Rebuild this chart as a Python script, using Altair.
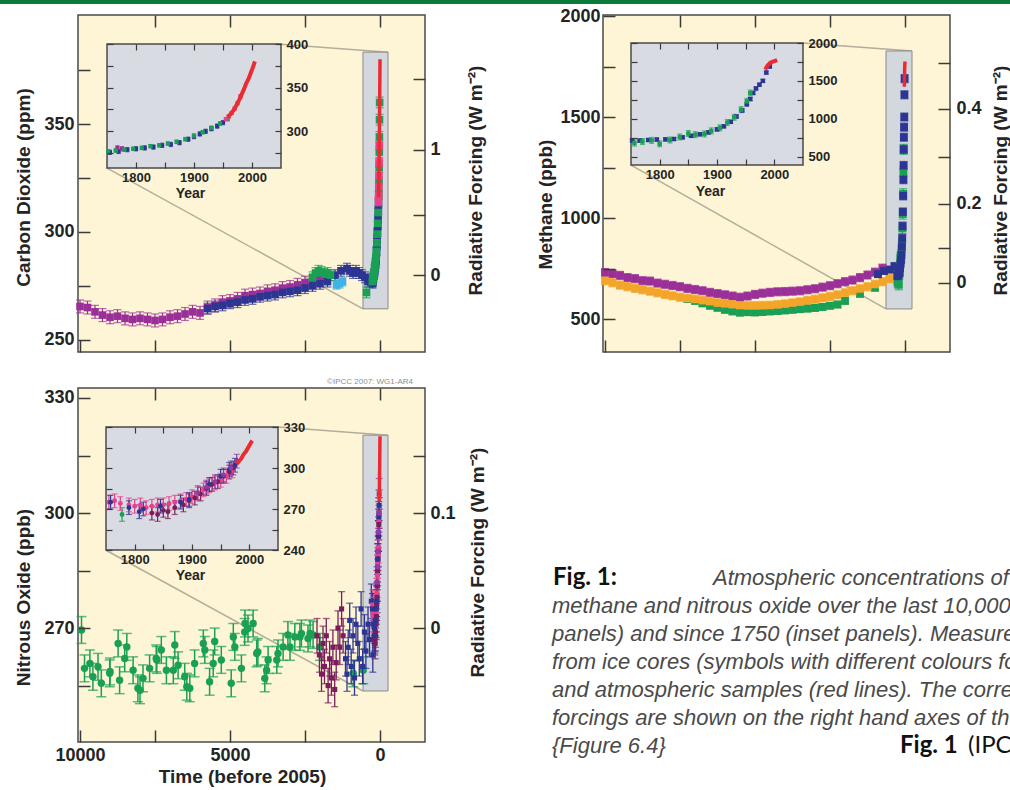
import altair as alt
import pandas as pd

W, H = 1010, 790
FONT = "Liberation Sans"
CAPFONT = "Lato"

# ---------------- series names and colours ----------------
SERIES = ['purple', 'blue', 'green', 'orange', 'red', 'pink', 'maroon', 'cyan', 'violet']
COLORS = ['#9b2f99', '#2d3592', '#19a054', '#f3a52a', '#ec2a32', '#e8408c', '#7b1d5b', '#40b3e6', '#8f3ca6']
RED = '#ec2a32'

# ---------------- CO2 : main panel (years before 2005, ppm) ----------------
co2_purple_t = [10000, 9750, 9500, 9250, 9000, 8750, 8500, 8250, 8000, 7750, 7500, 7250, 7000, 6750, 6500, 6250,
                6000, 5750, 5500, 5250, 5000, 4750, 4500, 4250, 4000, 3750, 3500, 3250, 3000, 2750, 2500, 2250, 2000]
co2_purple_v = [265.5, 265, 263, 261.5, 260.5, 261, 260, 259.5, 260, 259.5, 259, 259.5, 260.5, 261, 262, 263,
                262.5, 265, 266, 267.5, 268, 269, 270.5, 271, 271.5, 272.5, 273, 274, 274.5, 275.5, 276.5, 277, 278]
co2_blue_t = [5750, 5500, 5250, 5000, 4750, 4500, 4250, 4000, 3750, 3500, 3250, 3000, 2750, 2500, 2250, 2000,
              1750, 1500, 1300, 1100, 1000, 900, 800, 700, 600, 500, 400, 300]
co2_blue_v = [264.5, 265.5, 266, 267, 267.5, 268.5, 269, 270, 270.5, 271, 272, 272.5, 273, 274, 275, 276,
              277, 280, 282, 283, 282, 281, 282, 281, 280, 279, 277, 278]
co2_green_t = [2250, 2150, 2050, 1950, 1850, 1750, 1650, 450, 36, 32, 28, 24, 20, 16, 12]
co2_green_v = [279, 281, 282, 281.5, 280.5, 281, 280, 272, 318, 323, 330, 337, 344, 352, 360]
co2_cyan_t = [1450, 1350, 1250]
co2_cyan_v = [275.5, 276, 277]

# CO2 inset (calendar year, ppm)
co2i_blue_y = [1755, 1770, 1785, 1800, 1815, 1830, 1845, 1860, 1875, 1890, 1900, 1910, 1920, 1930, 1940, 1950]
co2i_blue_v = [276, 277, 279, 280, 281, 282, 284, 285, 287, 291, 294, 297, 300, 303, 306, 310]
co2i_green_y = [1752, 1765, 1780, 1795, 1810, 1825, 1840, 1855, 1870, 1885, 1900, 1915, 1930, 1945, 1958]
co2i_green_v = [277, 278, 279, 280, 281, 283, 284, 286, 288, 291, 295, 299, 304, 309, 314]
co2i_purple_y = [1768, 1776]
co2i_purple_v = [281, 280]
co2i_pink_y = [1955, 1960, 1965, 1970, 1975, 1980]
co2i_pink_v = [314, 317, 321, 326, 332, 340]
co2i_red_y = [1958, 1962, 1966, 1970, 1974, 1978, 1982, 1986, 1990, 1994, 1998, 2002, 2005]
co2i_red_v = [316, 319, 322, 326, 331, 336, 342, 348, 355, 360, 367, 374, 380]

# ---------------- CH4 : main panel (years before 2005, ppb) ----------------
ch4_purple_t = [10000, 9750, 9500, 9250, 9000, 8750, 8500, 8250, 8000, 7750, 7500, 7250, 7000, 6750, 6500, 6250,
                6000, 5750, 5500, 5250, 5000, 4750, 4500, 4250, 4000, 3750, 3500, 3250, 3000, 2750, 2500, 2250,
                2000, 1750, 1500, 1250, 1000, 750]
ch4_purple_v = [730, 724, 716, 705, 700, 690, 688, 678, 672, 666, 660, 652, 646, 640, 632, 626,
                620, 614, 608, 614, 622, 628, 632, 635, 636, 638, 640, 645, 650, 658, 665, 675,
                685, 693, 705, 718, 732, 752]
ch4_orange_t = [10000, 9750, 9500, 9250, 9000, 8750, 8500, 8250, 8000, 7750, 7500, 7250, 7000, 6750, 6500, 6250,
                6000, 5750, 5500, 5250, 5000, 4750, 4500, 4250, 4000, 3750, 3500, 3250, 3000, 2750, 2500, 2250,
                2000, 1750, 1500, 1250, 1000, 750, 500]
ch4_orange_v = [690, 680, 668, 660, 652, 645, 638, 630, 622, 615, 608, 603, 598, 592, 587, 580,
                576, 572, 568, 566, 566, 567, 568, 571, 575, 580, 585, 592, 598, 605, 612, 620,
                630, 640, 650, 660, 672, 685, 700]
ch4_green_t = [7250, 7000, 6750, 6500, 6250, 6000, 5750, 5500, 5250, 5000, 4750, 4500, 4250, 4000, 3750, 3500,
               3250, 3000, 2750, 2500, 2250, 2000, 1500, 1000]
ch4_green_v = [600, 590, 578, 566, 556, 546, 538, 532, 534, 533, 535, 538, 540, 543, 546, 549,
               552, 555, 560, 566, 572, 590, 625, 655]
ch4_blue_t = [900, 700, 500, 350]
ch4_blue_v = [722, 738, 745, 762]

# CH4 inset (calendar year, ppb)
ch4i_blue_y = [1752, 1765, 1780, 1795, 1810, 1825, 1840, 1855, 1870, 1885, 1900, 1912, 1924, 1934, 1944, 1952,
               1958, 1963, 1968, 1974, 1980, 1986, 1992]
ch4i_blue_v = [715, 712, 720, 726, 728, 733, 755, 775, 795, 820, 860, 900, 960, 1030, 1110, 1190,
               1260, 1340, 1400, 1450, 1500, 1610, 1690]
ch4i_green_y = [1756, 1770, 1786, 1800, 1818, 1835, 1850, 1862, 1878, 1890, 1905, 1918, 1930, 1942, 1952, 1958]
ch4i_green_v = [680, 700, 715, 670, 720, 760, 805, 790, 800, 840, 880, 950, 1020, 1120, 1230, 1340]
ch4i_red_y = [1984, 1988, 1992, 1996, 2000, 2005]
ch4i_red_v = [1650, 1700, 1735, 1750, 1760, 1775]

# ---------------- N2O : main panel (years before 2005, ppb) ----------------
n2o_green_t = [9950, 9850, 9570, 9400, 9290, 9010, 8730, 8680, 8510, 8230, 8070, 7900, 7680, 7460, 7290, 7120,
               6840, 6730, 6510, 6340, 6180, 5840, 5680, 5510, 5290, 4960, 4840, 4620, 4510, 4400, 4230, 4070,
               3840, 3730, 3400, 3230, 3070, 2840, 2620, 2400, 2230,
               9670, 9000, 8440, 8000, 7440, 6890, 6440, 5890, 5560, 4890, 4500, 4110, 3780, 3440, 3000, 2670,
               2330, 2000, 890, 560]
n2o_green_v = [269.5, 259.5, 257.3, 259.9, 255.6, 258.2, 266, 256.4, 262.1, 259, 254.3, 256.9, 259.5, 262.1, 264.3, 259,
               265.6, 260.3, 257.3, 254.3, 260.8, 264.3, 256, 266.5, 261.7, 255.6, 265.1, 259.5, 269, 269.9, 271.2, 263.8,
               256.9, 261.7, 263.4, 265.1, 268.2, 267.7, 268.6, 267.3, 268.2,
               260.8, 258.7, 265.1, 253.8, 261.7, 259, 254.7, 266, 260.8, 267.7, 271.2, 263.4, 259, 261.7, 265.1, 267.7,
               268.6, 265.1, 258.2, 259]
n2o_maroon_t = [2100, 2020, 1950, 1900, 1850, 1790, 1730, 1680, 1620, 1570, 1510, 1460, 1400, 1340, 1280, 1230]
n2o_maroon_v = [268, 263, 258, 266, 260, 268, 255, 262, 257, 265, 254, 261, 270, 265, 275, 268]
n2o_blue_t = [1150, 1100, 1060, 1010, 960, 900, 850, 800, 740, 690, 630, 580, 520, 470, 400, 350, 290, 240, 180, 130]
n2o_blue_v = [262, 258, 265, 272, 260, 268, 257, 271, 266, 262, 275, 260, 269, 264, 271, 267, 277, 263, 268, 272]

# N2O inset (calendar year, ppb)
n2oi_pink_y = [1755, 1765, 1775, 1790, 1800, 1810, 1820, 1830, 1840, 1850, 1860, 1870, 1880, 1890, 1900, 1910,
               1920, 1930, 1940, 1950, 1960, 1970]
n2oi_pink_v = [275, 276, 274, 273, 272, 273, 271, 272, 273, 273, 274, 275, 276, 277, 279, 281,
               284, 287, 289, 291, 294, 298]
n2oi_maroon_y = [1830, 1840, 1850, 1858, 1870, 1885, 1895, 1905, 1915, 1925, 1935, 1945, 1955, 1965, 1972]
n2oi_maroon_v = [267, 266, 269, 268, 271, 273, 276, 278, 281, 285, 288, 290, 294, 297, 300]
n2oi_blue_y = [1758, 1790, 1808, 1815, 1845, 1880, 1895, 1930, 1950, 1965, 1975]
n2oi_blue_v = [275, 271, 268, 270, 272, 275, 277, 288, 294, 299, 302]
n2oi_violet_y = [1910, 1925, 1940, 1955, 1968, 1978]
n2oi_violet_v = [282, 286, 290, 295, 300, 305]
n2oi_green_y = [1778]
n2oi_green_v = [266]
n2oi_red_y = [1978, 1982, 1986, 1990, 1994, 1998, 2002, 2005]
n2oi_red_v = [303, 305, 307, 310, 312, 315, 318, 320]

# ---------------- axis ticks & labels ----------------
main_x_ticks = [10000, 7500, 5000, 2500, 0]
main_x_labels = ['10000', '', '5000', '', '0']
inset_x_ticks = [1800, 1850, 1900, 1950, 2000]
inset_x_labels = ['1800', '', '1900', '', '2000']

co2_y_ticks = [250, 275, 300, 325, 350, 375]
co2_y_labels = ['250', '', '300', '', '350', '']
co2_rf_at = [280, 308, 338, 371]          # concentration where forcing ticks sit
co2_rf_labels = ['0', '', '1', '']
co2i_y_ticks = [275, 300, 325, 350, 375, 400]
co2i_y_labels = ['', '300', '', '350', '', '400']

ch4_y_ticks = [500, 750, 1000, 1250, 1500, 1750, 2000]
ch4_y_labels = ['500', '', '1000', '', '1500', '', '2000']
ch4_rf_at = [680, 854, 1070, 1301, 1541, 1765]
ch4_rf_labels = ['0', '', '0.2', '', '0.4', '']
ch4i_y_ticks = [500, 750, 1000, 1250, 1500, 1750, 2000]
ch4i_y_labels = ['500', '', '1000', '', '1500', '', '2000']

n2o_y_ticks = [255, 270, 285, 300, 315, 330]
n2o_y_labels = ['', '270', '', '300', '', '330']
n2o_rf_at = [255, 270, 285, 300, 315]
n2o_rf_labels = ['', '0', '', '0.1', '']
n2oi_y_ticks = [240, 255, 270, 285, 300, 315, 330]
n2oi_y_labels = ['240', '', '270', '', '300', '', '330']

# zoom boxes in the main panels [t_left, t_right, low, high] and connector end points
co2_box = [567, -267, 264.4, 383.3]
ch4_box = [633, -233, 550, 1827]
n2o_box = [567, -267, 253.6, 320.3]
co2_link = ([3300, 9100], [-267, 567], [387, 329.6], [383.3, 264.4])
ch4_link = ([3400, 9133], [-233, 633], [1866, 1262], [1827, 550])
n2o_link = ([3400, 9133], [-267, 567], [322.4, 290.3], [320.3, 253.6])

caption_lines = [
    "methane and nitrous oxide over the last 10,000 years (large",
    "panels) and since 1750 (inset panels). Measurements are shown",
    "from ice cores (symbols with different colours for different studies)",
    "and atmospheric samples (red lines). The corresponding radiative",
    "forcings are shown on the right hand axes of the large panels.",
]

# ---------------- layout (pixel placement of the panels) ----------------
P_CO2 = dict(xd=[10067, -1500], xr=[78, 425], yd=[244.4, 400.5], yr=[352, 15])
P_CH4 = dict(xd=[10067, -1500], xr=[603, 950], yd=[337, 2005], yr=[352, 15])
P_N2O = dict(xd=[10067, -1500], xr=[78, 425], yd=[240.3, 332.6], yr=[742, 388])
I_CO2 = dict(xd=[1750, 2050], xr=[107, 281], yd=[258, 400], yr=[168, 44])
I_CH4 = dict(xd=[1750, 2050], xr=[631, 803], yd=[390, 2000], yr=[165, 43])
I_N2O = dict(xd=[1750, 2050], xr=[106, 278], yd=[240, 330], yr=[550, 427])

CREAM = '#fdf5d6'
INSET_BG = '#d8dbe1'
BOX_BG = '#d3d7de'
FRAME = '#4a4a4a'
LINK = '#b4ad9a'
AXC = '#3a3a3a'
LBC = '#242424'

CSCALE = alt.Scale(domain=SERIES, range=COLORS)
ONE = pd.DataFrame({'a': [0]})


def sc(d, r):
    return alt.Scale(domain=list(d), range=list(r), nice=False, zero=False)


def XS(P, field):
    return alt.X(field, type='quantitative', scale=sc(P['xd'], P['xr']), axis=None)


def YS(P, field):
    return alt.Y(field, type='quantitative', scale=sc(P['yd'], P['yr']), axis=None)


def sdf(name, xs, vs, err):
    return pd.DataFrame({'t': xs, 'v': vs, 'e': [err] * len(xs), 's': [name] * len(xs)})


def ago(years):
    return [2005 - y for y in years]


def rect_layer(P, x1, x2, y1, y2, fill, stroke, sw):
    df = pd.DataFrame({'a': [x1], 'b': [x2], 'c': [y1], 'd': [y2]})
    return alt.Chart(df).mark_rect(fill=fill, stroke=stroke, strokeWidth=sw).encode(
        x=XS(P, 'a'), x2='b:Q', y=YS(P, 'c'), y2='d:Q')


def frame_layer(P, fill, sw=1.5):
    return rect_layer(P, P['xd'][0], P['xd'][1], P['yd'][0], P['yd'][1], fill, FRAME, sw)


def link_layer(P, link):
    df = pd.DataFrame({'a': link[0], 'b': link[1], 'c': link[2], 'd': link[3]})
    return alt.Chart(df).mark_rule(color=LINK, strokeWidth=1.5).encode(
        x=XS(P, 'a'), x2='b:Q', y=YS(P, 'c'), y2='d:Q')


def data_layers(df, P, shape, size, cap, ew=1.2):
    base = alt.Chart(df).transform_calculate(lo='datum.v - datum.e', hi='datum.v + datum.e')
    col = alt.Color('s:N', scale=CSCALE, legend=None)
    rule = base.mark_rule(strokeWidth=ew).encode(x=XS(P, 't'), y=YS(P, 'lo'), y2='hi:Q', color=col)
    lo = base.mark_tick(orient='horizontal', size=cap, thickness=ew).encode(x=XS(P, 't'), y=YS(P, 'lo'), color=col)
    hi = base.mark_tick(orient='horizontal', size=cap, thickness=ew).encode(x=XS(P, 't'), y=YS(P, 'hi'), color=col)
    pt = base.mark_point(shape=shape, filled=True, size=size, opacity=1).encode(
        x=XS(P, 't'), y=YS(P, 'v'), color=col)
    return [rule, lo, hi, pt]


def line_layer(P, xs, vs, width=3):
    df = pd.DataFrame({'t': xs, 'v': vs})
    return alt.Chart(df).mark_line(color=RED, strokeWidth=width).encode(x=XS(P, 't'), y=YS(P, 'v'))


def label_expr(values, labels):
    parts = ["datum.value == %s ? '%s'" % (v, l) for v, l in zip(values, labels)]
    return " : ".join(parts) + " : ''"


def make_axis(orient, edge, values, labels=None, tick=12, lsize=18, lpad=4, title=None, tpos=None, tsize=19, tw=1.5):
    if orient == 'left':
        line = edge + tick
        off = -line
    elif orient == 'right':
        line = edge - tick
        off = line - W
    elif orient == 'top':
        line = edge + tick
        off = -line
    else:
        line = edge - tick
        off = line - H
    kw = dict(orient=orient, offset=off, values=values, tickSize=tick, tickWidth=tw, tickColor=AXC,
              domain=False, grid=False, zindex=1, labelFont=FONT, labelFontSize=lsize, labelFontWeight='bold',
              labelColor=LBC, labelPadding=lpad, labelOverlap=False, labelFlush=False, format='d', title=title)
    if labels is None:
        kw['labels'] = False
    else:
        kw['labelExpr'] = label_expr(values, labels)
    if title:
        tx, ty = tpos
        if orient in ('left', 'right'):
            kw.update(titleX=tx - line, titleY=ty, titleAngle=270)
        else:
            kw.update(titleX=tx, titleY=ty - line, titleAngle=0)
        kw.update(titleFont=FONT, titleFontSize=tsize, titleFontWeight='bold', titleColor=LBC,
                  titleAlign='center', titleBaseline='middle')
    return alt.Axis(**kw)


def axis_layer(P, xaxis, yaxis):
    df = pd.DataFrame({'x': [P['xd'][0]], 'y': [P['yd'][0]]})
    return alt.Chart(df).mark_point(opacity=0).encode(
        x=alt.X('x:Q', scale=sc(P['xd'], P['xr']), axis=xaxis),
        y=alt.Y('y:Q', scale=sc(P['yd'], P['yr']), axis=yaxis))


def text_layer(txt, x, y, size, font=FONT, weight='normal', style='normal', color='#333333', align='left'):
    return alt.Chart(ONE).mark_text(text=txt, font=font, fontSize=size, fontWeight=weight, fontStyle=style,
                                    color=color, align=align, baseline='alphabetic').encode(
        x=alt.value(x), y=alt.value(y))


def main_axes(P, yt, yl, rf_at, rf_l, ytitle, ypos, rpos, xlabels=None, xtitle=None, xpos=None, lpad_l=4, lpad_r=5):
    x0, x1 = P['xr']
    y1, y0 = P['yr']
    a = axis_layer(P,
                   make_axis('bottom', y1, main_x_ticks, xlabels, lpad=4, title=xtitle, tpos=xpos),
                   make_axis('left', x0, yt, yl, lpad=lpad_l, title=ytitle, tpos=ypos))
    b = axis_layer(P,
                   make_axis('top', y0, main_x_ticks[1:]),
                   make_axis('right', x1, rf_at, rf_l, lpad=lpad_r, title='Radiative Forcing (W m\u207b\u00b2)',
                             tpos=rpos))
    return [a, b]


def inset_axes(P, yt, yl, ypos):
    x0, x1 = P['xr']
    y1, y0 = P['yr']
    a = axis_layer(P,
                   make_axis('bottom', y1, inset_x_ticks, inset_x_labels, tick=6, lsize=13, lpad=3,
                             title='Year', tpos=ypos, tsize=14, tw=1.2),
                   make_axis('left', x0, yt, tick=6, tw=1.2))
    b = axis_layer(P,
                   make_axis('top', y0, inset_x_ticks, tick=6, tw=1.2),
                   make_axis('right', x1, yt, yl, tick=6, lsize=13, lpad=5, tw=1.2))
    return [a, b]


layers = []
layers.append(alt.Chart(ONE).mark_rect(color='#0b7a3b').encode(
    x=alt.value(0), x2=alt.value(W), y=alt.value(0), y2=alt.value(4)))

# ======== CO2 ========
co2_main = pd.concat([
    sdf('purple', co2_purple_t, co2_purple_v, 3.0),
    sdf('blue', co2_blue_t, co2_blue_v, 2.5),
    sdf('cyan', co2_cyan_t, co2_cyan_v, 2.0),
    sdf('green', co2_green_t, co2_green_v, 2.5),
    sdf('blue', ago(co2i_blue_y), co2i_blue_v, 2.0),
    sdf('green', ago(co2i_green_y), co2i_green_v, 2.0),
    sdf('pink', ago(co2i_pink_y), co2i_pink_v, 2.0),
], ignore_index=True)
co2_inset = pd.concat([
    sdf('blue', co2i_blue_y, co2i_blue_v, 2.5),
    sdf('purple', co2i_purple_y, co2i_purple_v, 2.5),
    sdf('green', co2i_green_y, co2i_green_v, 2.0),
    sdf('pink', co2i_pink_y, co2i_pink_v, 1.5),
], ignore_index=True)
layers += [frame_layer(P_CO2, CREAM), link_layer(P_CO2, co2_link),
           rect_layer(P_CO2, *co2_box, BOX_BG, '#8a8a8a', 1)]
layers += data_layers(co2_main, P_CO2, 'square', 58, 8)
layers += [line_layer(P_CO2, ago(co2i_red_y), co2i_red_v, 3.5)]
layers += [frame_layer(I_CO2, INSET_BG)]
layers += data_layers(co2_inset, I_CO2, 'square', 18, 4, 1)
layers += [line_layer(I_CO2, co2i_red_y, co2i_red_v, 4)]
layers += main_axes(P_CO2, co2_y_ticks, co2_y_labels, co2_rf_at, co2_rf_labels,
                    'Carbon Dioxide (ppm)', (23, 187), (475, 180))
layers += inset_axes(I_CO2, co2i_y_ticks, co2i_y_labels, (190, 193))

# ======== CH4 ========
ch4_main = pd.concat([
    sdf('purple', ch4_purple_t, ch4_purple_v, 20),
    sdf('green', ch4_green_t, ch4_green_v, 16),
    sdf('orange', ch4_orange_t, ch4_orange_v, 20),
    sdf('blue', ch4_blue_t, ch4_blue_v, 15),
    sdf('green', ago(ch4i_green_y), ch4i_green_v, 25),
    sdf('blue', ago(ch4i_blue_y), ch4i_blue_v, 20),
], ignore_index=True)
ch4_inset = pd.concat([
    sdf('blue', ch4i_blue_y, ch4i_blue_v, 20),
    sdf('green', ch4i_green_y, ch4i_green_v, 40),
], ignore_index=True)
layers += [frame_layer(P_CH4, CREAM), link_layer(P_CH4, ch4_link),
           rect_layer(P_CH4, *ch4_box, BOX_BG, '#8a8a8a', 1)]
layers += data_layers(ch4_main, P_CH4, 'square', 62, 8)
layers += [line_layer(P_CH4, ago(ch4i_red_y), ch4i_red_v, 3.5)]
layers += [frame_layer(I_CH4, INSET_BG)]
layers += data_layers(ch4_inset, I_CH4, 'square', 20, 5, 1)
layers += [line_layer(I_CH4, ch4i_red_y, ch4i_red_v, 4)]
layers += main_axes(P_CH4, ch4_y_ticks, ch4_y_labels, ch4_rf_at, ch4_rf_labels,
                    'Methane (ppb)', (545, 204), (1000, 180), lpad_l=3, lpad_r=6)
layers += inset_axes(I_CH4, ch4i_y_ticks, ch4i_y_labels, (710, 191))

# ======== N2O ========
n2o_main_a = sdf('green', n2o_green_t, n2o_green_v, 3.5)
n2o_main_b = pd.concat([
    sdf('maroon', n2o_maroon_t, n2o_maroon_v, 4.5),
    sdf('blue', n2o_blue_t, n2o_blue_v, 4.5),
    sdf('pink', ago(n2oi_pink_y), n2oi_pink_v, 4),
    sdf('maroon', ago(n2oi_maroon_y), n2oi_maroon_v, 4),
    sdf('blue', ago(n2oi_blue_y), n2oi_blue_v, 4),
    sdf('violet', ago(n2oi_violet_y), n2oi_violet_v, 4),
], ignore_index=True)
n2o_inset = pd.concat([
    sdf('pink', n2oi_pink_y, n2oi_pink_v, 5),
    sdf('green', n2oi_green_y, n2oi_green_v, 5),
    sdf('maroon', n2oi_maroon_y, n2oi_maroon_v, 5),
    sdf('blue', n2oi_blue_y, n2oi_blue_v, 5),
    sdf('violet', n2oi_violet_y, n2oi_violet_v, 5),
], ignore_index=True)
layers += [frame_layer(P_N2O, CREAM), link_layer(P_N2O, n2o_link),
           rect_layer(P_N2O, *n2o_box, BOX_BG, '#8a8a8a', 1)]
layers += data_layers(n2o_main_a, P_N2O, 'circle', 55, 10, 1.5)
layers += data_layers(n2o_main_b, P_N2O, 'square', 26, 7, 1.3)
layers += [line_layer(P_N2O, ago(n2oi_red_y), n2oi_red_v, 3.5)]
layers += [frame_layer(I_N2O, INSET_BG)]
layers += data_layers(n2o_inset, I_N2O, 'circle', 24, 6, 1.2)
layers += [line_layer(I_N2O, n2oi_red_y, n2oi_red_v, 4)]
layers += main_axes(P_N2O, n2o_y_ticks, n2o_y_labels, n2o_rf_at, n2o_rf_labels,
                    'Nitrous Oxide (ppb)', (23, 597), (477, 562),
                    xlabels=main_x_labels, xtitle='Time (before 2005)', xpos=(242, 776))
layers += inset_axes(I_N2O, n2oi_y_ticks, n2oi_y_labels, (190, 575))

# ======== texts ========
layers.append(text_layer('\u00a9IPCC 2007: WG1-AR4', 413, 384, 8, color='#8e8e8e', align='right'))
layers.append(text_layer('Fig. 1:', 553, 585, 24, font=CAPFONT, weight='bold', color='#111111'))
layers.append(text_layer('Atmospheric concentrations of carbon dioxide,', 713, 585, 22, style='italic',
                         color='#4a4a4a'))
for i, ln in enumerate(caption_lines):
    layers.append(text_layer(ln, 552, 613 + i * 28, 22, style='italic', color='#4a4a4a'))
layers.append(text_layer('{Figure 6.4}', 552, 753, 22, style='italic', color='#4a4a4a'))
layers.append(text_layer('Fig. 1', 900, 753, 24, font=CAPFONT, weight='bold', color='#111111'))
layers.append(text_layer('(IPCC, 2007)', 968, 753, 24, font=CAPFONT, color='#111111'))

chart = alt.layer(*layers).resolve_scale(x='independent', y='independent').properties(
    width=W, height=H, padding=0, background='white',
    autosize=alt.AutoSizeParams(type='none')
).configure_view(strokeWidth=0)

chart.save("out.html", embed_options={"renderer": "svg", "actions": False})
